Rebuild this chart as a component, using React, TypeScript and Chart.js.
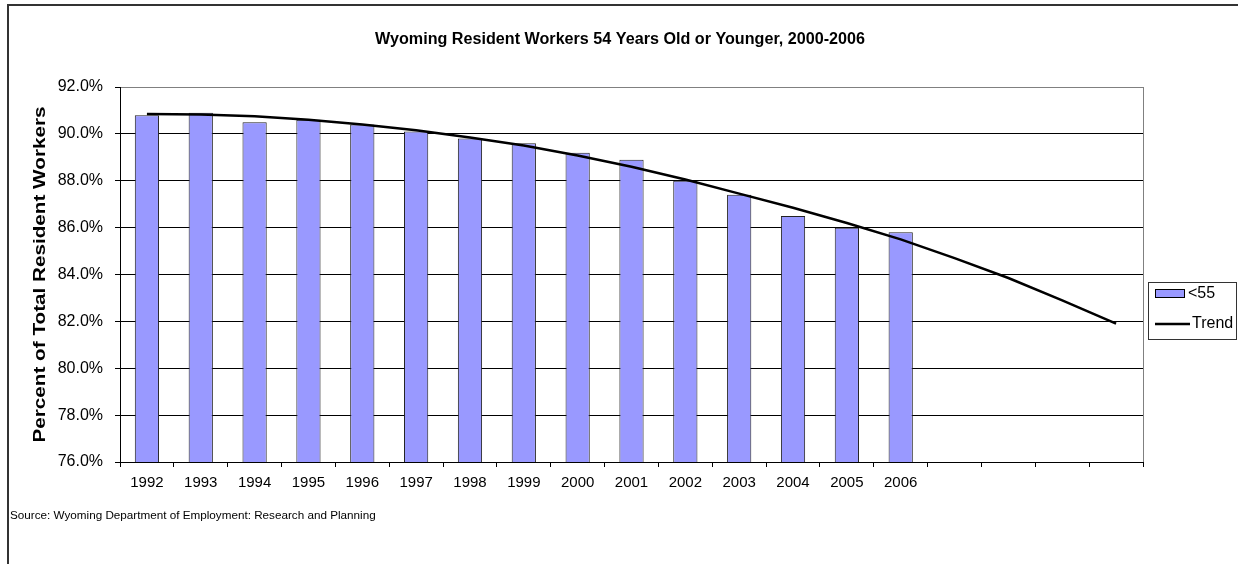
import React, { useEffect, useRef } from "react";
import { Chart, registerables } from "chart.js";

Chart.register(...registerables);

const categories = [
  "1992", "1993", "1994", "1995", "1996", "1997", "1998", "1999", "2000",
  "2001", "2002", "2003", "2004", "2005", "2006", "", "", "", "",
];
const under55 = [
  90.8, 90.9, 90.5, 90.6, 90.4, 90.1, 89.8, 89.6, 89.2, 88.9, 88.0, 87.4, 86.5,
  86.0, 85.8, null, null, null, null,
];
const trend = [
  90.85, 90.83, 90.75, 90.6, 90.4, 90.15, 89.85, 89.5, 89.08, 88.6, 88.05,
  87.45, 86.85, 86.2, 85.5, 84.7, 83.85, 82.9, 81.9,
];
const yTicks = [76, 78, 80, 82, 84, 86, 88, 90, 92];

const TITLE = "Wyoming Resident Workers 54 Years Old or Younger, 2000-2006";
const Y_TITLE = "Percent of Total Resident Workers";
const SOURCE = "Source: Wyoming Department of Employment: Research and Planning";

const FONT = "Arial, 'Liberation Sans', sans-serif";

function stretchedText(
  ctx: CanvasRenderingContext2D,
  text: string,
  cx: number,
  cy: number,
  target: number,
  rotate: boolean
) {
  ctx.save();
  ctx.translate(cx, cy);
  if (rotate) ctx.rotate(-Math.PI / 2);
  const w = ctx.measureText(text).width;
  ctx.scale(target / w, 1);
  ctx.textAlign = "center";
  ctx.textBaseline = "middle";
  ctx.fillText(text, 0, 0);
  ctx.restore();
}

const decorPlugin = {
  id: "decor",
  beforeDraw(chart: any) {
    const ctx = chart.ctx;
    ctx.save();
    ctx.fillStyle = "#fff";
    ctx.fillRect(0, 0, chart.width, chart.height);
    ctx.fillStyle = "#333";
    ctx.fillRect(7, 4, chart.width - 7, 2);
    ctx.fillRect(7, 4, 2, chart.height - 4);
    ctx.restore();
  },
  afterDraw(chart: any) {
    const ctx = chart.ctx;
    const a = chart.chartArea;
    ctx.save();
    // plot area right border
    ctx.strokeStyle = "#808080";
    ctx.lineWidth = 1;
    ctx.beginPath();
    ctx.moveTo(Math.round(a.right) + 0.5, a.top);
    ctx.lineTo(Math.round(a.right) + 0.5, a.bottom);
    ctx.stroke();
    ctx.fillStyle = "#000";
    // title
    ctx.font = `bold 16px ${FONT}`;
    stretchedText(ctx, TITLE, 620, 40, 490, false);
    // y title
    ctx.font = `bold 16px ${FONT}`;
    stretchedText(ctx, Y_TITLE, 41, (a.top + a.bottom) / 2, 336, true);
    // source
    ctx.font = `11.7px ${FONT}`;
    ctx.textAlign = "left";
    ctx.textBaseline = "middle";
    ctx.fillText(SOURCE, 10, 516);
    // legend
    const ds = chart.data.datasets;
    ctx.strokeStyle = "#333";
    ctx.lineWidth = 1;
    ctx.strokeRect(1148.5, 282.5, 88, 57);
    ctx.fillStyle = ds[0].backgroundColor;
    ctx.fillRect(1155, 289, 30, 9);
    ctx.strokeStyle = "#000";
    ctx.strokeRect(1155.5, 289.5, 29, 8);
    ctx.fillStyle = "#000";
    ctx.font = `16px ${FONT}`;
    ctx.fillText(ds[0].label, 1188, 294);
    ctx.strokeStyle = ds[1].borderColor;
    ctx.lineWidth = 2.5;
    ctx.beginPath();
    ctx.moveTo(1155, 324);
    ctx.lineTo(1190, 324);
    ctx.stroke();
    ctx.fillText(ds[1].label, 1192, 324);
    ctx.restore();
  },
};

export default function App() {
  const ref = useRef<HTMLCanvasElement | null>(null);
  useEffect(() => {
    if (!ref.current) return;
    const chart = new Chart(ref.current, {
      type: "bar",
      data: {
        labels: categories,
        datasets: [
          {
            type: "bar",
            label: "<55",
            data: under55,
            backgroundColor: "#9999FF",
            borderColor: "#222222",
            borderWidth: 1,
            categoryPercentage: 1,
            barPercentage: 0.45,
            order: 2,
          } as any,
          {
            type: "line",
            label: "Trend",
            data: trend,
            borderColor: "#000000",
            borderWidth: 2.5,
            pointRadius: 0,
            tension: 0,
            fill: false,
            order: 1,
          } as any,
        ],
      },
      options: {
        responsive: false,
        animation: false,
        layout: { padding: { left: 0, right: 95, top: 87, bottom: 62 } },
        plugins: {
          legend: { display: false },
          tooltip: { enabled: false },
          title: { display: false },
        },
        scales: {
          x: {
            offset: true,
            grid: {
              offset: true,
              drawOnChartArea: false,
              drawTicks: true,
              tickLength: 5,
              tickColor: "#000",
            },
            border: { color: "#000" },
            ticks: {
              color: "#000",
              font: { family: FONT, size: 15 },
              padding: 7,
              maxRotation: 0,
              autoSkip: false,
            },
            afterFit(scale: any) {
              scale.height = 40;
            },
          },
          y: {
            min: 76,
            max: 92,
            afterBuildTicks(scale: any) {
              scale.ticks = yTicks.map((v) => ({ value: v }));
            },
            grid: {
              color: (c: any) => (c.tick && c.tick.value === 92 ? "#808080" : "#000"),
              tickColor: "#000",
              tickLength: 5,
            },
            border: { color: "#000" },
            ticks: {
              color: "#000",
              font: { family: FONT, size: 16 },
              padding: 12,
              callback: (v: any) => Number(v).toFixed(1) + "%",
            },
            title: { display: false },
            afterFit(scale: any) {
              scale.width = 120;
            },
          },
        },
      },
      plugins: [decorPlugin],
    });
    return () => chart.destroy();
  }, []);
  return (
    <div style={{ position: "fixed", left: 0, top: 0, width: 1238, height: 564 }}>
      <canvas ref={ref} width={1238} height={564} />
    </div>
  );
}
